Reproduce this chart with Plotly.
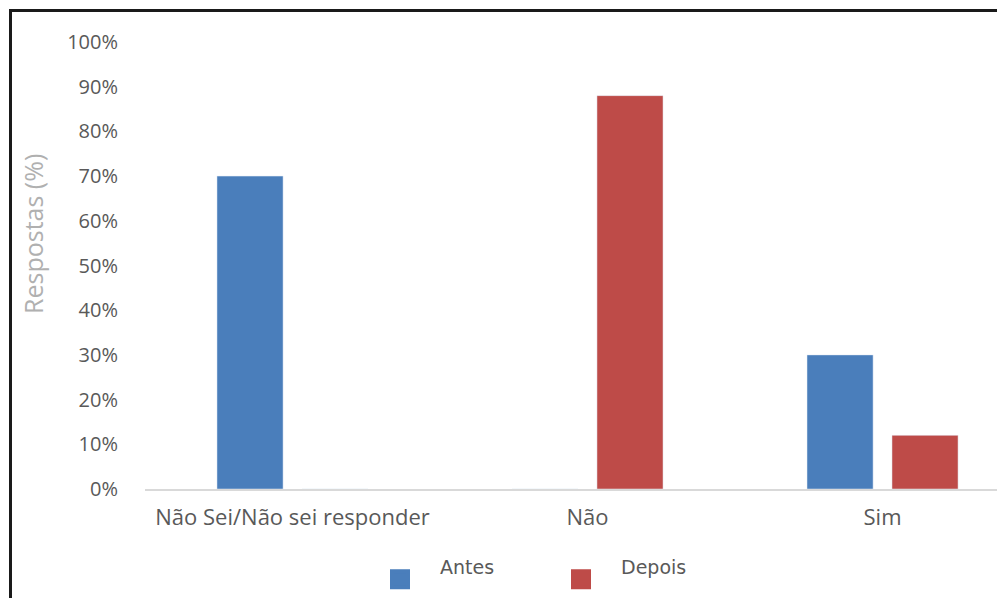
import plotly.graph_objects as go

categories = ["Não Sei/Não sei responder", "Não", "Sim"]
antes = [70, 0, 30]
depois = [0, 88, 12]
y_ticks = [0, 10, 20, 30, 40, 50, 60, 70, 80, 90, 100]
y_tick_labels = [f"{v}%" for v in y_ticks]

BLUE = "#4a7ebb"
RED = "#be4b48"

fig = go.Figure()
fig.add_trace(go.Bar(name="Antes", x=categories, y=antes, marker_color=BLUE,
                     width=0.224, offset=-0.256, showlegend=False))
fig.add_trace(go.Bar(name="Depois", x=categories, y=depois, marker_color=RED,
                     width=0.224, offset=0.032, showlegend=False))
# legend entries with larger square swatches
fig.add_trace(go.Scatter(name="Antes<br>&nbsp;", x=[None], y=[None], mode="markers",
                         marker=dict(symbol="square", size=16, color=BLUE,
                                     line=dict(color=BLUE, width=4))))
fig.add_trace(go.Scatter(name="Depois<br>&nbsp;", x=[None], y=[None], mode="markers",
                         marker=dict(symbol="square", size=16, color=RED,
                                     line=dict(color=RED, width=4))))

PLOT_L, PLOT_W, PLOT_B, PLOT_H = 145, 852, 489, 447

def px(x):
    return (x - PLOT_L) / PLOT_W

def py(y):
    return (PLOT_B - y) / PLOT_H

fig.update_layout(
    width=997, height=598,
    margin=dict(l=145, r=0, t=42, b=109, autoexpand=False),
    paper_bgcolor="white", plot_bgcolor="white",
    barmode="group",
    showlegend=True,
    legend=dict(orientation="h", x=px(360), xanchor="left", y=py(548), yanchor="top",
                font=dict(family="DejaVu Sans", size=19, color="#595959"),
                bgcolor="rgba(0,0,0,0)",
                itemwidth=70, entrywidth=96, itemclick=False, valign="middle"),
    xaxis=dict(range=[-0.5, 2.388], showgrid=False, zeroline=False,
               showline=True, linecolor="#d9d9d9", linewidth=1.5,
               ticks="", tickfont=dict(family="Open Sans", size=22, color="#595959"),
               ticklabelstandoff=8),
    yaxis=dict(range=[0, 100], tickvals=y_ticks, ticktext=y_tick_labels,
               showgrid=False, zeroline=False, showline=False, ticks="",
               tickfont=dict(family="Open Sans", size=20, color="#595959"),
               ticklabelstandoff=26),
    annotations=[dict(text="Respostas (%)", textangle=-90, xref="paper", yref="paper",
                      x=px(33), y=py(234), xanchor="center", yanchor="middle",
                      showarrow=False,
                      font=dict(family="Open Sans", size=25, color="#b0b0b0"))],
    shapes=[
        dict(type="line", xref="paper", yref="paper",
             x0=px(10), x1=px(1005), y0=py(10.5), y1=py(10.5),
             line=dict(color="#1a1a1a", width=3), layer="above"),
        dict(type="line", xref="paper", yref="paper",
             x0=px(10.5), x1=px(10.5), y0=py(9), y1=py(605),
             line=dict(color="#1a1a1a", width=3), layer="above"),
    ],
)

fig.write_html("out.html")
